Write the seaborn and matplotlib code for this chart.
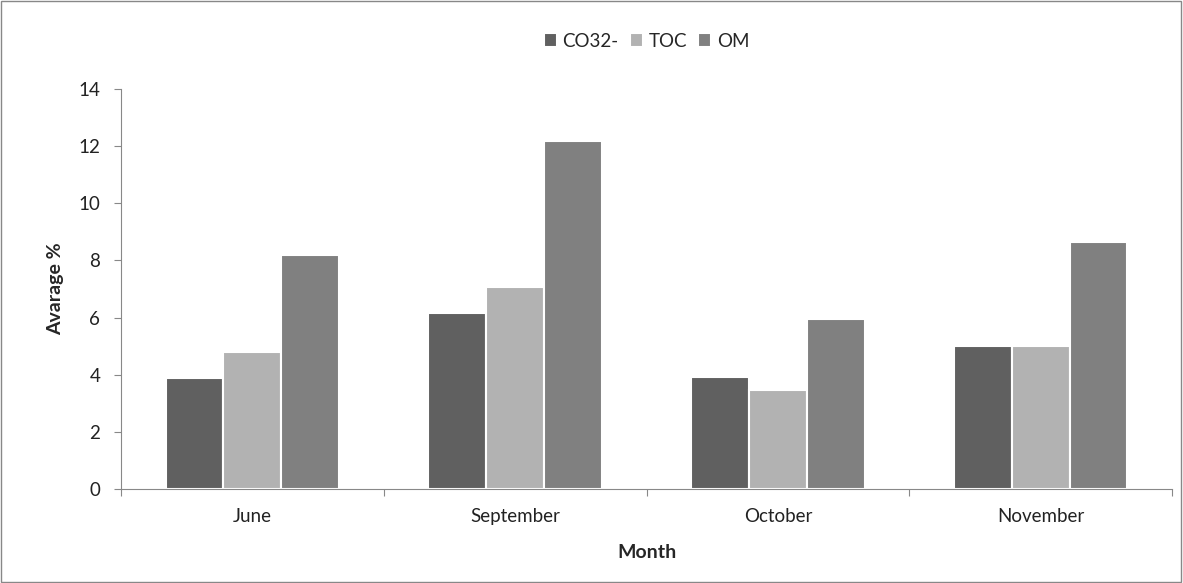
import matplotlib
matplotlib.use("Agg")
import matplotlib.pyplot as plt
import seaborn as sns
import pandas as pd
from matplotlib.patches import Rectangle
from matplotlib.ticker import FixedLocator

months = ["June", "September", "October", "November"]
series = ["CO32-", "TOC", "OM"]
co3 = [3.88, 6.16, 3.92, 5.0]
toc = [4.8, 7.07, 3.47, 5.0]
om = [8.19, 12.18, 5.95, 8.65]
colors = ["#606060", "#b2b2b2", "#808080"]

rows = []
for s, vals in zip(series, [co3, toc, om]):
    for m, v in zip(months, vals):
        rows.append({"Month": m, "Series": s, "Value": v})
df = pd.DataFrame(rows)

sns.set_theme(style="white")
plt.rcParams["font.family"] = ["Lato", "DejaVu Sans"]

fig = plt.figure(figsize=(11.83, 5.83), dpi=100)
ax = fig.add_axes([0.1023, 0.1612, 0.8884, 0.6861])

sns.barplot(data=df, x="Month", y="Value", hue="Series", order=months,
            hue_order=series, palette=colors, width=0.66, ax=ax,
            edgecolor="white", linewidth=1.5, saturation=1, legend=True)

ax.set_xlim(-0.5, 3.5)
ax.set_ylim(0, 14)
ax.set_yticks(range(0, 15, 2))
ax.tick_params(axis="y", labelsize=13.5, colors="#222222", length=5, width=0.8,
               direction="out", left=True, color="#888888", pad=10)
ax.tick_params(axis="x", which="major", length=0, labelsize=13.5, pad=14, colors="#222222")
ax.xaxis.set_minor_locator(FixedLocator([-0.5, 0.5, 1.5, 2.5, 3.5]))
ax.tick_params(axis="x", which="minor", length=5, width=0.8, color="#888888",
               bottom=True, direction="out")
for side in ["top", "right"]:
    ax.spines[side].set_visible(False)
for side in ["left", "bottom"]:
    ax.spines[side].set_color("#888888")
    ax.spines[side].set_linewidth(0.8)

ax.set_xlabel("Month", fontsize=14, fontweight="bold", labelpad=13)
ax.set_ylabel("Avarage %", fontsize=14, fontweight="bold", labelpad=10)

handles, labels = ax.get_legend_handles_labels()
ax.legend(handles, labels, loc="center", bbox_to_anchor=(0.5, 1.12), ncol=3,
          frameon=False, fontsize=13.5, handlelength=0.7, handleheight=0.7,
          handletextpad=0.3, columnspacing=0.6)

fig.patches.append(Rectangle((0.001, 0.001), 0.997, 0.997, transform=fig.transFigure,
                             fill=False, edgecolor="#888888", linewidth=1))

fig.savefig("out.png", dpi=100)
